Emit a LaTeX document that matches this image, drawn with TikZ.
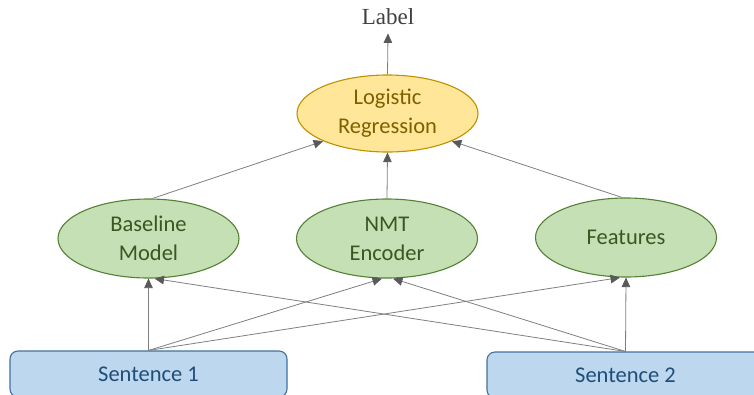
\documentclass[tikz,border=0pt]{standalone}
\usepackage{fontspec}
\setmainfont{Carlito}
\newfontfamily\labelfont{Liberation Serif}
\usetikzlibrary{shapes.geometric,arrows.meta}

\definecolor{ylwfill}{HTML}{FFE699}
\definecolor{ylwdraw}{HTML}{BF9000}
\definecolor{ylwtext}{HTML}{7F6000}
\definecolor{grnfill}{HTML}{C5E0B4}
\definecolor{grndraw}{HTML}{548235}
\definecolor{grntext}{HTML}{385723}
\definecolor{blufill}{HTML}{BDD7EE}
\definecolor{bludraw}{HTML}{41719C}
\definecolor{blutext}{HTML}{1F4E79}
\definecolor{linegray}{HTML}{7F7F7F}
\definecolor{tipgray}{HTML}{595959}

\tikzset{
  txt/.style={font=\fontsize{22.5}{29}\selectfont, align=center},
  oval/.style={ellipse, inner sep=0pt, minimum width=181pt, minimum height=79pt, line width=1.1pt, txt},
  model/.style={oval, fill=grnfill, draw=grndraw, text=grntext},
  combiner/.style={oval, fill=ylwfill, draw=ylwdraw, text=ylwtext, minimum height=77pt},
  sentbox/.style={rectangle, rounded corners=8pt, fill=blufill, draw=bludraw, line width=1.1pt,
    text=blutext, minimum width=277pt, minimum height=46pt, inner sep=0pt, txt},
  arr/.style={draw=linegray, line width=0.8pt,
    -{Triangle[length=9.5pt,width=8.5pt,color=tipgray,fill=tipgray]}},
}

\begin{document}
\begin{tikzpicture}[x=1pt, y=-1pt]
  \useasboundingbox (0,0) rectangle (754,394);
  \clip (0,0) rectangle (754,394);

  % inputs
  \node[sentbox] (s1) at (148.5,374) {Sentence 1};
  \node[sentbox] (s2) at (625.5,375) {Sentence 2};

  % first-level models
  \node[model] (bl) at (148.5,238.5) {Baseline\\Model};
  \node[model] (nmt) at (387,238.5) {NMT\\Encoder};
  \node[model] (fe) at (626,237.5) {Features};

  % combiner and output
  \node[combiner] (lr) at (387.5,113.5) {Logistic\\Regression};
  \node[font=\labelfont\fontsize{23}{26}\selectfont, text=black!75, inner xsep=0pt, inner ysep=8.6pt]
    (lab) at (388,16.5) {Label};

  % inputs to models
  \draw[arr] (s1.north) -- (bl.south);
  \draw[arr] (s1.north) -- ([xshift=-5pt]nmt.south);
  \draw[arr] (s1.north) -- ([xshift=-6pt]fe.south);
  \draw[arr] (s2.north) -- ([xshift=6pt]bl.south);
  \draw[arr] (s2.north) -- ([xshift=6pt]nmt.south);
  \draw[arr] (s2.north) -- (fe.south);

  % models to combiner
  \draw[arr] ([xshift=4pt]bl.north) -- (lr.south west);
  \draw[arr] (nmt.north) -- (lr.south);
  \draw[arr] ([xshift=-4pt]fe.north) -- (lr.south east);

  % combiner to label
  \draw[arr] (lr.north) -- (lab.south);
\end{tikzpicture}
\end{document}
